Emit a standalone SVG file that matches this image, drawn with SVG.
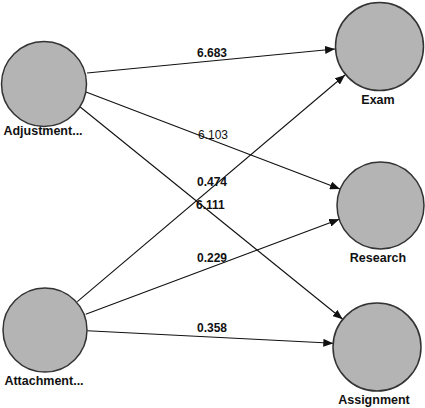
<svg xmlns="http://www.w3.org/2000/svg" width="425" height="408" viewBox="0 0 425 408">
<style>
.node{fill:#b4b4b4;stroke:#333;stroke-width:1.5}
.lbl{font-family:"Liberation Sans",Arial,sans-serif;font-size:12.5px;font-weight:bold;fill:#111;text-anchor:middle}
.el{font-family:"Liberation Sans",Arial,sans-serif;font-size:12px;font-weight:bold;fill:#111}
.edge{stroke:#111;stroke-width:1.1;fill:none;marker-end:url(#arr)}
</style>
<defs>
<marker id="arr" viewBox="0 0 10 8" refX="10" refY="4" markerWidth="10" markerHeight="8" markerUnits="userSpaceOnUse" orient="auto">
<path d="M0,0 L10,4 L0,8 z" fill="#111"/>
</marker>
</defs>
<rect width="425" height="408" fill="#fff"/>
<g id="connectors">
<line class="edge" x1="87" y1="73" x2="335" y2="49"/>
<line class="edge" x1="86" y1="92" x2="340" y2="189"/>
<line class="edge" x1="79" y1="106" x2="342.7" y2="319.3"/>
<line class="edge" x1="77.3" y1="301.7" x2="345" y2="75"/>
<line class="edge" x1="85.7" y1="314.3" x2="339.3" y2="219.3"/>
<line class="edge" x1="87.3" y1="330.7" x2="333.3" y2="343.3"/>
<text class="el" x="197" y="57">6.683</text>
<text class="el" x="198" y="139" style="font-weight:normal">6.103</text>
<text class="el" x="197" y="186">0.474</text>
<text class="el" x="196" y="209">6.111</text>
<text class="el" x="197" y="262">0.229</text>
<text class="el" x="197" y="332">0.358</text>
</g>
<g id="adjustment">
<circle class="node" cx="44" cy="84" r="42.5"/>
<text class="lbl" x="43" y="135">Adjustment...</text>
</g>
<g id="attachment">
<circle class="node" cx="45" cy="330" r="42"/>
<text class="lbl" x="44" y="385">Attachment...</text>
</g>
<g id="exam">
<circle class="node" cx="379.5" cy="46.5" r="44"/>
<text class="lbl" x="378" y="104">Exam</text>
</g>
<g id="research">
<circle class="node" cx="380.5" cy="205.5" r="43.5"/>
<text class="lbl" x="378" y="262">Research</text>
</g>
<g id="assignment">
<circle class="node" cx="377" cy="347" r="44"/>
<text class="lbl" x="374" y="404">Assignment</text>
</g>
</svg>
